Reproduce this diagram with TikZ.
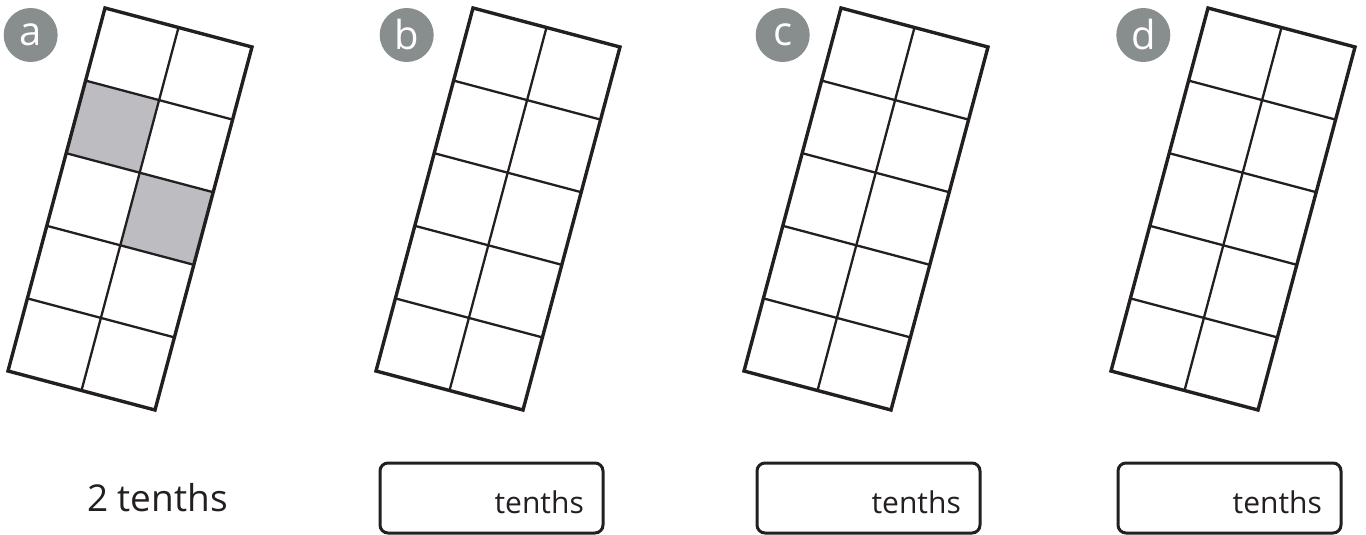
\documentclass[tikz,border=0pt]{standalone}
\usepackage{fontspec}
\setmainfont{Open Sans}
\definecolor{badge}{HTML}{888D8D}
\definecolor{cellgray}{HTML}{BDBCC1}
\definecolor{ink}{HTML}{231F20}
\tikzset{
  frame/.style={draw=ink, line width=3.4pt, line join=miter},
  inner/.style={draw=ink, line width=2.3pt},
  badgenode/.style={circle, fill=badge, minimum size=54pt, inner sep=0pt, text=white, font=\fontsize{40}{40}\selectfont},
  ansbox/.style={draw=ink, line width=3pt, rounded corners=8pt, minimum width=223pt, minimum height=70pt, inner sep=0pt},
  boxlabel/.style={anchor=base east, inner sep=0pt, text=ink, font=\fontsize{30}{30}\selectfont},
  biglabel/.style={anchor=base east, inner sep=0pt, text=ink, font=\fontsize{37}{37}\selectfont}
}
\newcommand{\tenthsgrid}[2]{%
  \begin{scope}[shift={(#1pt,-8pt)}, x={(73.5pt,-19.5pt)}, y={(-19.4pt,-72.6pt)}]
    #2
    \draw[inner] (1,0) -- (1,5);
    \foreach \k in {1,...,4} {\draw[inner] (0,\k) -- (2,\k);}
    \draw[frame] (0,0) -- (2,0) -- (2,5) -- (0,5) -- cycle;
  \end{scope}}
\begin{document}
\begin{tikzpicture}[x=1pt, y=-1pt]
  \useasboundingbox (0,0) rectangle (1366,535);
  % badges
  \node[badgenode] (ba) at (30.7,35) {a};
  \node[badgenode] (bb) at (406.7,35) {b};
  \node[badgenode] (bc) at (782.7,35) {c};
  \node[badgenode] (bd) at (1143.3,35) {d};
  % grids
  \tenthsgrid{105}{%
    \fill[cellgray] (0,1) -- (1,1) -- (1,2) -- (0,2) -- cycle;
    \fill[cellgray] (1,2) -- (2,2) -- (2,3) -- (1,3) -- cycle;}
  \tenthsgrid{473}{}
  \tenthsgrid{841}{}
  \tenthsgrid{1208}{}
  % labels
  \node[biglabel] (la) at (228,511) {2 tenths};
  \node[ansbox] (xb) at (491.5,498) {};
  \node[ansbox] (xc) at (868.5,498) {};
  \node[ansbox] (xd) at (1229.5,498) {};
  \node[boxlabel] (tb) at (584,513) {tenths};
  \node[boxlabel] (tc) at (961,513) {tenths};
  \node[boxlabel] (td) at (1322,513) {tenths};
\end{tikzpicture}
\end{document}
